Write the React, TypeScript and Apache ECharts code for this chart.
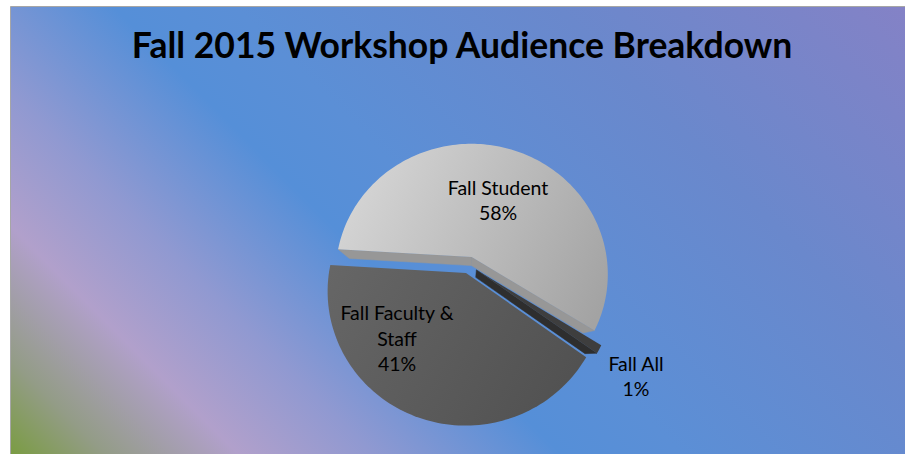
import React, { useEffect, useRef } from "react";
import * as echarts from "echarts";

// ---------- data ----------
const titleText = "Fall 2015 Workshop Audience Breakdown";
const categories = ["Fall Faculty & Staff", "Fall Student", "Fall All"];
const labelNames = ["Fall Faculty &\nStaff", "Fall Student", "Fall All"];
const values = [41, 58, 1];

// ---------- layout / style ----------
const FIRST_ANGLE = 125.9; // degrees clockwise from 12 o'clock
const CX = 469;
const CY = 265;
const FOCAL = 300.8;
const DIST = 2.212;
const SIN_A = 0.957;
const COS_A = 0.292;
const EXPLODE = 0.065;
const THICK = 0.22;
const LABEL_POS = [
  [397, 338],
  [498, 200],
  [636, 376],
];

const lin = (x: number, y: number, x2: number, y2: number, c1: string, c2: string) =>
  new echarts.graphic.LinearGradient(
    x, y, x2, y2,
    [
      { offset: 0, color: c1 },
      { offset: 1, color: c2 },
    ],
    true
  );

const TOP_FILL: any[] = [
  lin(330, 270, 590, 420, "#666666", "#4f4f4f"),
  lin(340, 160, 605, 300, "#d9d9d9", "#a3a3a3"),
  "#3e3e3e",
];
const WALL_FILL = ["#474747", "#979797", "#2e2e2e"];

const total = values.reduce((a, b) => a + b, 0);
const rad = (d: number) => (d * Math.PI) / 180;

function project(X: number, Yd: number, Hh: number): number[] {
  const depth = DIST - Yd * COS_A - Hh * SIN_A;
  return [CX + (FOCAL * X) / depth, CY + (FOCAL * (Yd * SIN_A - Hh * COS_A)) / depth];
}

function sliceAngles(i: number): number[] {
  let s = FIRST_ANGLE;
  for (let j = 0; j < i; j++) s += (360 * values[j]) / total;
  return [s, s + (360 * values[i]) / total];
}

const CAM_Y = DIST * COS_A;
function facing(px: number, py: number, nx: number, ny: number) {
  return -px * nx + (CAM_Y - py) * ny > 0;
}

export default function App() {
  const ref = useRef<HTMLDivElement>(null);

  useEffect(() => {
    if (!ref.current) return;
    const chart = echarts.init(ref.current, undefined, { renderer: "svg" });

    const bg = new echarts.graphic.LinearGradient(
      10, 454, 681.5, -217.5,
      [
        { offset: 0, color: "#7a9c42" },
        { offset: 0.07, color: "#939c86" },
        { offset: 0.17, color: "#b1a0cb" },
        { offset: 0.27, color: "#9099d1" },
        { offset: 0.41, color: "#558fd8" },
        { offset: 0.5, color: "#5b8fd6" },
        { offset: 0.74, color: "#6a88cc" },
        { offset: 1, color: "#8482c6" },
      ],
      true
    );

    chart.setOption({
      animation: false,
      title: {
        text: titleText,
        left: 457,
        top: 21,
        textAlign: "center",
        textStyle: {
          fontFamily: "Lato",
          fontWeight: "bold",
          fontSize: 35.5,
          color: "#000000",
        },
      },
      graphic: {
        elements: [
          {
            type: "rect",
            z: -10,
            silent: true,
            shape: { x: 10.5, y: 6.5, width: 905, height: 460 },
            style: { fill: bg, stroke: "#a6a6a6", lineWidth: 1 },
          },
        ],
      },
      series: [
        {
          type: "custom",
          coordinateSystem: "none",
          data: categories.map((name, i) => ({ name, value: values[i] })),
          renderItem: (params: any, api: any) => {
            const i = params.dataIndex;
            const v = api.value(0);
            const [a1, a2] = sliceAngles(i);
            const mid = rad((a1 + a2) / 2);
            const ox = EXPLODE * Math.sin(mid);
            const oy = -EXPLODE * Math.cos(mid);
            const rim = (deg: number, h: number) => {
              const t = rad(deg);
              return project(ox + Math.sin(t), oy - Math.cos(t), h);
            };
            const steps = Math.max(2, Math.ceil((a2 - a1) / 1.5));
            const children: any[] = [];

            // radial walls
            const addRadial = (deg: number, normalDeg: number) => {
              const t = rad(deg);
              const n = rad(normalDeg);
              const mx = ox + 0.5 * Math.sin(t);
              const my = oy - 0.5 * Math.cos(t);
              if (facing(mx, my, Math.sin(n), -Math.cos(n))) {
                children.push({
                  type: "polygon",
                  z2: 1,
                  shape: {
                    points: [project(ox, oy, 0), rim(deg, 0), rim(deg, -THICK), project(ox, oy, -THICK)],
                  },
                  style: { fill: WALL_FILL[i], stroke: WALL_FILL[i], lineWidth: 0.5 },
                });
              }
            };
            addRadial(a1, a1 - 90);
            addRadial(a2, a2 + 90);

            // outer wall (visible runs)
            let run: number[][] = [];
            let runBottom: number[][] = [];
            const flush = () => {
              if (run.length > 1) {
                children.push({
                  type: "polygon",
                  z2: 2,
                  shape: { points: run.concat(runBottom.slice().reverse()) },
                  style: { fill: WALL_FILL[i] },
                });
              }
              run = [];
              runBottom = [];
            };
            for (let k = 0; k <= steps; k++) {
              const d = a1 + ((a2 - a1) * k) / steps;
              const t = rad(d);
              const px = ox + Math.sin(t);
              const py = oy - Math.cos(t);
              if (facing(px, py, Math.sin(t), -Math.cos(t))) {
                run.push(rim(d, 0));
                runBottom.push(rim(d, -THICK));
              } else {
                flush();
              }
            }
            flush();

            // top face
            const topPts = [project(ox, oy, 0)];
            for (let k = 0; k <= steps; k++) topPts.push(rim(a1 + ((a2 - a1) * k) / steps, 0));
            children.push({
              type: "polygon",
              z2: 10,
              shape: { points: topPts },
              style: { fill: TOP_FILL[i] },
            });

            // label
            const pct = Math.round((v / total) * 100) + "%";
            children.push({
              type: "text",
              z2: 20,
              x: LABEL_POS[i][0],
              y: LABEL_POS[i][1],
              style: {
                text: labelNames[i] + "\n" + pct,
                fill: "#000000",
                font: "19.5px Lato",
                align: "center",
                verticalAlign: "middle",
                lineHeight: 25.5,
              },
            });

            return { type: "group", children };
          },
        },
      ],
    });

    return () => chart.dispose();
  }, []);

  return (
    <div
      ref={ref}
      style={{ position: "fixed", left: 0, top: 0, width: 905, height: 454, background: "#ffffff" }}
    />
  );
}
